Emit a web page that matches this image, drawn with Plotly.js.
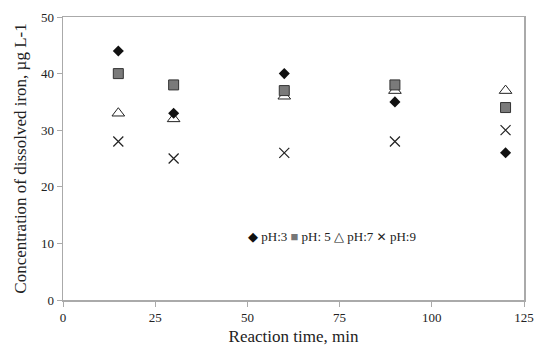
<!DOCTYPE html>
<html><head><meta charset="utf-8">
<script src="https://cdn.plot.ly/plotly-3.0.1.min.js"></script>
<style>body{margin:0;padding:0;background:#fff}#chart{width:535px;height:353px}</style>
</head><body><div id="chart"></div>
<script>
const time = [15, 30, 60, 90, 120];
const pH3 = [44, 33, 40, 35, 26];
const pH5 = [40, 38, 37, 38, 34];
const pH7 = [33, 32, 36, 37, 37];
const pH9 = [28, 25, 26, 28, 30];
const seriesNames = ['pH:3', 'pH: 5', 'pH:7', 'pH:9'];
const xTicks = [0, 25, 50, 75, 100, 125];
const yTicks = [0, 10, 20, 30, 40, 50];

const font = 'Liberation Serif, Times New Roman, serif';
const traces = [
  {x: time, y: pH9, name: seriesNames[3], mode: 'markers', type: 'scatter',
   marker: {symbol: 'x-thin-open', size: 10, color: '#222', line: {color: '#222', width: 1.2}}},
  {x: time, y: pH7, name: seriesNames[2], mode: 'markers', type: 'scatter',
   marker: {symbol: 'triangle-up-open', size: 11, color: '#222', line: {color: '#222', width: 1}}},
  {x: time, y: pH5, name: seriesNames[1], mode: 'markers', type: 'scatter',
   marker: {symbol: 'square', size: 10, color: '#7a7a7a', line: {color: '#333', width: 1}}},
  {x: time, y: pH3, name: seriesNames[0], mode: 'markers', type: 'scatter',
   marker: {symbol: 'diamond', size: 8.5, color: '#111', line: {width: 0}}}
];
const legendText = '<span style="color:#111">◆</span> ' + seriesNames[0] +
  ' <span style="color:#777">■</span> ' + seriesNames[1] +
  ' △ ' + seriesNames[2] + ' <span style="font-family:DejaVu Sans;font-size:12px">✕</span> ' + seriesNames[3];
const layout = {
  width: 535, height: 353,
  margin: {l: 63, r: 11, t: 17, b: 53},
  paper_bgcolor: '#fff', plot_bgcolor: '#fff',
  showlegend: false,
  font: {family: font, size: 13, color: '#222'},
  xaxis: {range: [0, 125], tickvals: xTicks, ticks: 'outside', ticklen: 5, tickcolor: '#aaa',
    showgrid: false, zeroline: false, showline: true, linecolor: '#aaa', linewidth: 1.5, mirror: true,
    tickfont: {family: font, size: 13, color: '#222'},
    title: {text: 'Reaction time, min', font: {family: font, size: 17, color: '#222'}, standoff: 6}},
  yaxis: {range: [0, 50], tickvals: yTicks, ticks: 'outside', ticklen: 5, tickcolor: '#aaa',
    showgrid: false, zeroline: false, showline: true, linecolor: '#aaa', linewidth: 1.5, mirror: true,
    tickfont: {family: font, size: 13, color: '#222'},
    title: {text: 'Concentration of dissolved iron, µg L-1', font: {family: font, size: 17, color: '#222'}, standoff: 10}},
  annotations: [{xref: 'paper', yref: 'paper', x: 0.398, y: 0.223, xanchor: 'left', yanchor: 'middle',
    showarrow: false, text: legendText, font: {family: font, size: 13, color: '#222'}}]
};
Plotly.newPlot('chart', traces, layout, {displayModeBar: false, staticPlot: true});
</script></body></html>
